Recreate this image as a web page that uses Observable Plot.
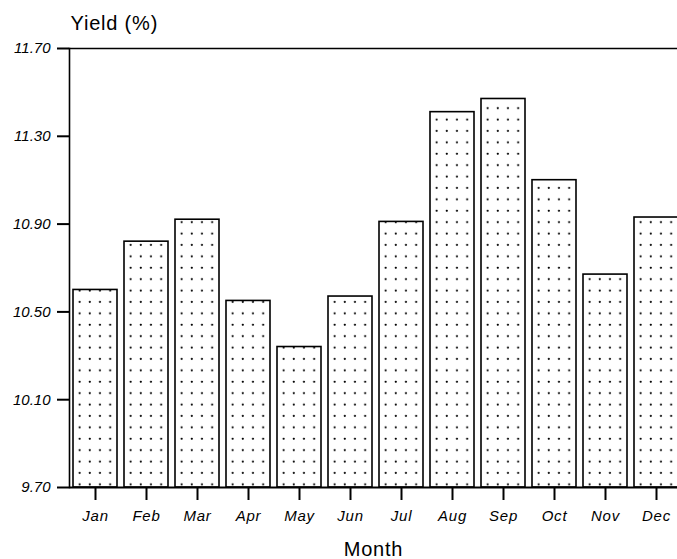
<!DOCTYPE html>
<html>
<head>
<meta charset="utf-8">
<script src="https://cdn.jsdelivr.net/npm/d3@7"></script>
<script src="https://cdn.jsdelivr.net/npm/@observablehq/plot@0.6"></script>
<style>
  html, body { margin: 0; padding: 0; background: white; overflow: hidden; }
  g[aria-label="x-axis tick label"] text { letter-spacing: 0.8px; }
  .axis-title { letter-spacing: 0.8px; }
</style>
</head>
<body>
<div id="chart"></div>
<script>
const months = ["Jan", "Feb", "Mar", "Apr", "May", "Jun", "Jul", "Aug", "Sep", "Oct", "Nov", "Dec"];
const yields = [10.60, 10.82, 10.92, 10.55, 10.34, 10.57, 10.91, 11.41, 11.47, 11.10, 10.67, 10.93];
const yTicks = [9.70, 10.10, 10.50, 10.90, 11.30, 11.70];
const yLabel = ["Yield (%)"];
const xLabel = ["Month"];

const data = months.map((m, i) => ({month: m, yield: yields[i]}));

const chart = Plot.plot({
  width: 677,
  height: 559,
  marginTop: 48,
  marginBottom: 72,
  marginLeft: 69,
  marginRight: 0,
  style: {fontFamily: "'Liberation Sans', Arial, sans-serif", fontSize: "15px", background: "white", color: "black"},
  x: {domain: months, range: [69, 681], paddingInner: 0.14, paddingOuter: 0.07, align: 0.5},
  y: {domain: [9.7, 11.7]},
  marks: [
    Plot.barY(data, {x: "month", y1: 9.7, y2: "yield", fill: "url(#dots)", stroke: "black", strokeWidth: 1.6}),
    Plot.ruleY([11.7], {stroke: "black", strokeWidth: 1.6}),
    Plot.ruleY([9.7], {stroke: "black", strokeWidth: 2}),
    Plot.frame({anchor: "left", stroke: "black", strokeWidth: 1.6}),
    Plot.axisY({ticks: yTicks, tickFormat: d => d.toFixed(2), tickSize: 12, tickPadding: 7, fontStyle: "italic", fontSize: 15, label: null, strokeWidth: 2}),
    Plot.axisX({tickSize: 13, tickPadding: 10, fontStyle: "italic", fontSize: 15, label: null, strokeWidth: 2}),
    Plot.text(yLabel, {text: d => d, frameAnchor: "top-left", dx: 1, dy: -19, textAnchor: "start", lineAnchor: "bottom", fontSize: 20, className: "axis-title"}),
    Plot.text(xLabel, {text: d => d, frameAnchor: "bottom", dy: 68, lineAnchor: "bottom", fontSize: 20, className: "axis-title"})
  ]
});

const ns = "http://www.w3.org/2000/svg";
const defs = document.createElementNS(ns, "defs");
const pat = document.createElementNS(ns, "pattern");
pat.setAttribute("id", "dots");
pat.setAttribute("patternUnits", "userSpaceOnUse");
pat.setAttribute("width", "10.2");
pat.setAttribute("height", "11.4");
const bg = document.createElementNS(ns, "rect");
bg.setAttribute("width", "10.2");
bg.setAttribute("height", "11.4");
bg.setAttribute("fill", "white");
pat.appendChild(bg);
const c = document.createElementNS(ns, "circle");
c.setAttribute("cx", "8.2");
c.setAttribute("cy", "5.5");
c.setAttribute("r", "1.1");
c.setAttribute("fill", "black");
pat.appendChild(c);
defs.appendChild(pat);
chart.insertBefore(defs, chart.firstChild);

document.getElementById("chart").appendChild(chart);
</script>
</body>
</html>
